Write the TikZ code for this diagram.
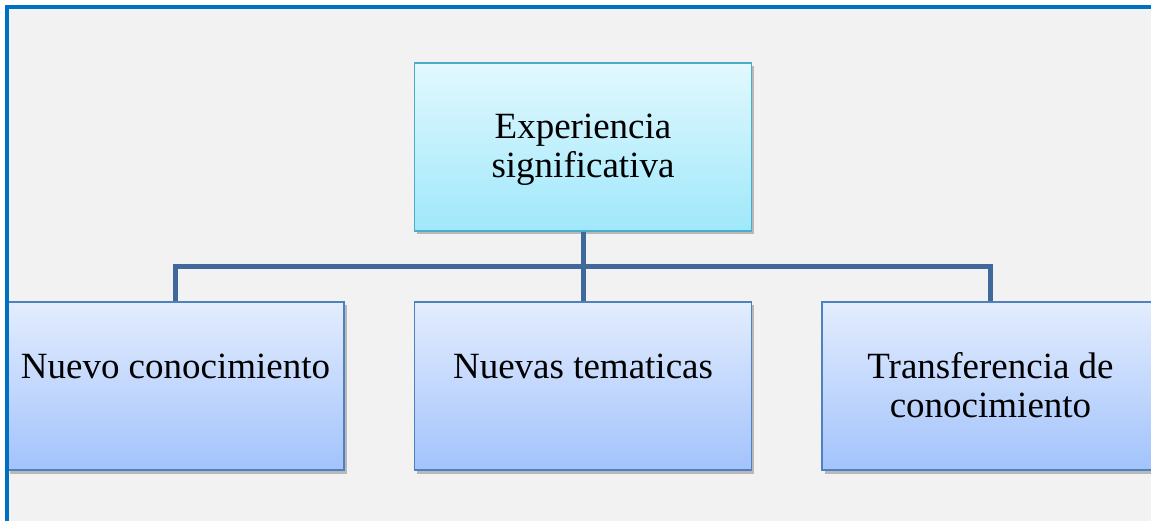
\documentclass[tikz,border=0pt]{standalone}
\usepackage{fontspec}
\setmainfont{Liberation Serif}
\usetikzlibrary{shadows}
\definecolor{bgray}{HTML}{F2F2F2}
\definecolor{frameblue}{HTML}{0070C0}
\definecolor{linkblue}{HTML}{41689A}
\definecolor{topA}{HTML}{E2F8FE}
\definecolor{topB}{HTML}{9FE8FB}
\definecolor{topE}{HTML}{4BACC6}
\definecolor{botA}{HTML}{E3EDFD}
\definecolor{botB}{HTML}{A2C3FC}
\definecolor{botE}{HTML}{4F81BD}
\newcommand{\boxtext}[1]{\parbox[c][168pt][t]{337pt}{\centering\fontsize{37pt}{39pt}\selectfont\rule{0pt}{76pt}#1}}
\tikzset{
  basebox/.style={rectangle, inner sep=0pt, line width=1.5pt, minimum width=337pt, minimum height=168pt,
    drop shadow={shadow xshift=2.5pt, shadow yshift=-3.5pt, opacity=0.45, fill=black!55}},
  topbox/.style={basebox, draw=topE, top color=topA, bottom color=topB},
  botbox/.style={basebox, draw=botE, top color=botA, bottom color=botB},
  link/.style={draw=linkblue, line width=5pt}
}
\begin{document}
\begin{tikzpicture}[x=1pt,y=-1pt]
\useasboundingbox (0,0) rectangle (1151,521);
\clip (0,0) rectangle (1151,521);
\fill[white] (0,0) rectangle (1151,521);
\fill[bgray] (8,8) rectangle (1170,540);
\node[topbox] (top) at (583,147) {\boxtext{Experiencia\\significativa}};
\node[botbox] (b1) at (175.5,386) {\boxtext{Nuevo conocimiento}};
\node[botbox] (b2) at (583,386) {\boxtext{Nuevas tematicas}};
\node[botbox] (b3) at (990.5,386) {\boxtext{Transferencia de\\conocimiento}};
\coordinate (j) at (583,266.5);
\draw[link] (top.south) -- (j);
\draw[link] (j) -| (b1.north);
\draw[link] (j) -| (b3.north);
\draw[link] (j) -- (b2.north);
\draw[frameblue, line width=3.8pt] (6.9,540) -- (6.9,7.4) -- (1170,7.4);
\end{tikzpicture}
\end{document}
